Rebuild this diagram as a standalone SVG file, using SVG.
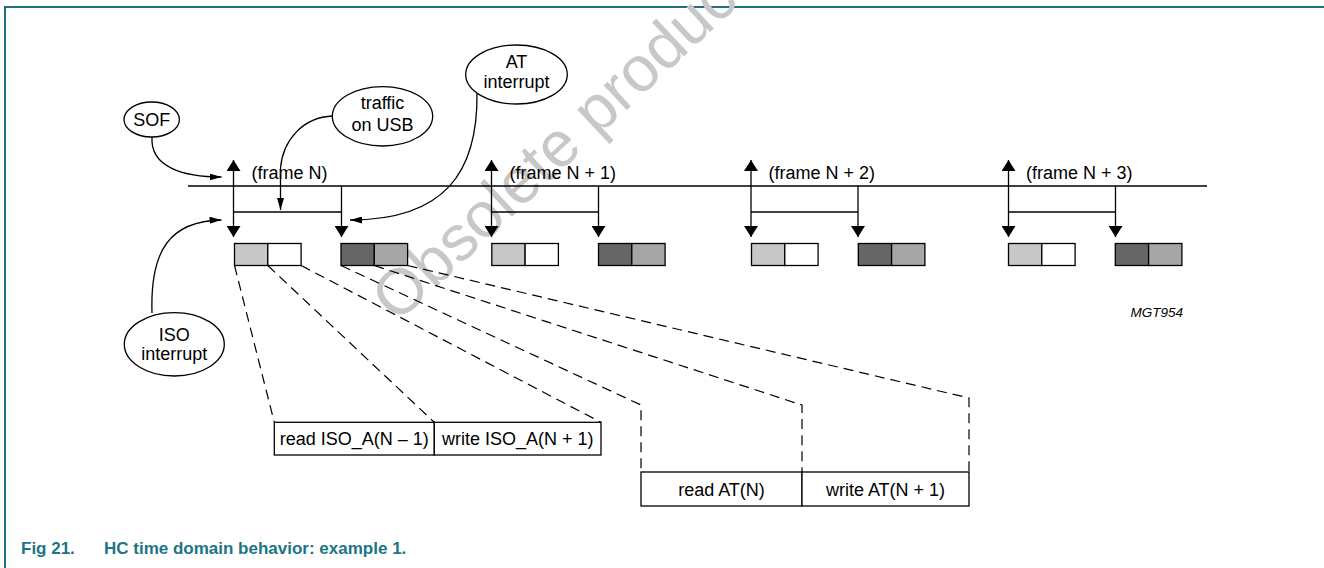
<svg xmlns="http://www.w3.org/2000/svg" width="1324" height="568" viewBox="0 0 1324 568">
<defs>
<style>
.ln{stroke:#000;stroke-width:1.3;fill:none}
.ds{stroke:#000;stroke-width:1.2;fill:none;stroke-dasharray:10 6}
.el{stroke:#000;stroke-width:1.3;fill:#fff}
.tx{font-family:"Liberation Sans",Arial,Helvetica,sans-serif;font-size:18px;fill:#000}
.mid{text-anchor:middle}
.bx{stroke:#000;stroke-width:1.3}
.lg{fill:#c8c8c8}.wh{fill:#fff}.dk{fill:#666}.md{fill:#a6a6a6}
.wm{font-family:"Liberation Sans",Arial,sans-serif;font-size:64px;fill:#c8c8c8}
</style>
<marker id="big" viewBox="0 0 11 14" refX="11" refY="7" markerWidth="11" markerHeight="14" markerUnits="userSpaceOnUse" orient="auto-start-reverse"><path d="M0,0 L11,7 L0,14 z" fill="#000"/></marker>
<marker id="sm" viewBox="0 0 12 7" refX="12" refY="3.5" markerWidth="12" markerHeight="7" markerUnits="userSpaceOnUse" orient="auto"><path d="M0,0 L12,3.5 L0,7 z" fill="#000"/></marker>
</defs>
<rect width="1324" height="568" fill="#fff"/>
<path d="M5,568 V7 H1324" fill="none" stroke="#1f6f80" stroke-width="2"/>
<text class="wm" x="397" y="324" transform="rotate(-43 397 324)">Obsolete product</text>

<g id="timeline">
<line class="ln" x1="188" y1="186" x2="1207" y2="186"/>
</g>

<g id="frameN">
<line class="ln" x1="233.5" y1="160" x2="233.5" y2="237" marker-start="url(#big)" marker-end="url(#big)"/>
<line class="ln" x1="233.5" y1="212" x2="341.5" y2="212"/>
<line class="ln" x1="341.5" y1="186" x2="341.5" y2="237" marker-end="url(#big)"/>
<text class="tx" x="251.5" y="179">(frame N)</text>
<rect class="bx lg" x="234.5" y="243.5" width="33.3" height="22"/>
<rect class="bx wh" x="267.8" y="243.5" width="33.3" height="22"/>
<rect class="bx dk" x="341" y="243.5" width="33.3" height="22"/>
<rect class="bx md" x="374.3" y="243.5" width="33.3" height="22"/>
</g>

<g id="frameN1">
<line class="ln" x1="491.5" y1="160" x2="491.5" y2="237" marker-start="url(#big)" marker-end="url(#big)"/>
<line class="ln" x1="491.5" y1="212" x2="598.5" y2="212"/>
<line class="ln" x1="598.5" y1="186" x2="598.5" y2="237" marker-end="url(#big)"/>
<text class="tx" x="509.5" y="179">(frame N + 1)</text>
<rect class="bx lg" x="491.8" y="243.5" width="33.3" height="22"/>
<rect class="bx wh" x="525.1" y="243.5" width="33.3" height="22"/>
<rect class="bx dk" x="598.5" y="243.5" width="33.3" height="22"/>
<rect class="bx md" x="631.8" y="243.5" width="33.3" height="22"/>
</g>

<g id="frameN2">
<line class="ln" x1="751" y1="160" x2="751" y2="237" marker-start="url(#big)" marker-end="url(#big)"/>
<line class="ln" x1="751" y1="212" x2="858" y2="212"/>
<line class="ln" x1="858" y1="186" x2="858" y2="237" marker-end="url(#big)"/>
<text class="tx" x="768.5" y="179">(frame N + 2)</text>
<rect class="bx lg" x="751.5" y="243.5" width="33.3" height="22"/>
<rect class="bx wh" x="784.8" y="243.5" width="33.3" height="22"/>
<rect class="bx dk" x="858.3" y="243.5" width="33.3" height="22"/>
<rect class="bx md" x="891.6" y="243.5" width="33.3" height="22"/>
</g>

<g id="frameN3">
<line class="ln" x1="1008.5" y1="160" x2="1008.5" y2="237" marker-start="url(#big)" marker-end="url(#big)"/>
<line class="ln" x1="1008.5" y1="212" x2="1115.5" y2="212"/>
<line class="ln" x1="1115.5" y1="186" x2="1115.5" y2="237" marker-end="url(#big)"/>
<text class="tx" x="1026" y="179">(frame N + 3)</text>
<rect class="bx lg" x="1008.5" y="243.5" width="33.3" height="22"/>
<rect class="bx wh" x="1041.8" y="243.5" width="33.3" height="22"/>
<rect class="bx dk" x="1115.3" y="243.5" width="33.3" height="22"/>
<rect class="bx md" x="1148.6" y="243.5" width="33.3" height="22"/>
</g>

<g id="connectors">
<path class="ln" d="M152,137 C150,168 185,177 221.5,177" marker-end="url(#sm)"/>
<path class="ln" d="M333,116 C303,117 283,140 280.5,168 L280.5,210" marker-end="url(#sm)"/>
<path class="ln" d="M477,93 C478,172 445,220 350,220" marker-end="url(#sm)"/>
<path class="ln" d="M152,313 C150,250 170,221 221.5,220" marker-end="url(#sm)"/>
<path class="ds" d="M234.5,265.5 L274.3,422.3"/>
<path class="ds" d="M267.8,265.5 L434.3,422.3"/>
<path class="ds" d="M301.1,265.5 L601,422.3"/>
<path class="ds" d="M341,265.5 L641,405 L641,472"/>
<path class="ds" d="M374.3,265.5 L802,405 L802,472"/>
<path class="ds" d="M407.6,265.5 L969,398 L969,472"/>
</g>

<g id="sof">
<ellipse class="el" cx="151.7" cy="119.5" rx="27.7" ry="17.5"/>
<text class="tx mid" x="151.7" y="126">SOF</text>
</g>
<g id="traffic">
<ellipse class="el" cx="382.5" cy="116.3" rx="50.2" ry="29.7"/>
<text class="tx mid" x="382.5" y="108.5">traffic</text>
<text class="tx mid" x="382.5" y="131">on USB</text>
</g>
<g id="atint">
<ellipse class="el" cx="516.5" cy="74.5" rx="50.8" ry="29.5"/>
<text class="tx mid" x="516.5" y="67.5">AT</text>
<text class="tx mid" x="516.5" y="88">interrupt</text>
</g>
<g id="isoint">
<ellipse class="el" cx="174.3" cy="344.3" rx="50" ry="31.7"/>
<text class="tx mid" x="174.3" y="340.7">ISO</text>
<text class="tx mid" x="174.3" y="360">interrupt</text>
</g>

<g id="isobuf">
<rect class="bx wh" x="274.3" y="422.3" width="160" height="32.7"/>
<rect class="bx wh" x="434.3" y="422.3" width="166.7" height="32.7"/>
<text class="tx mid" x="354.3" y="445">read ISO_A(N – 1)</text>
<text class="tx mid" x="517.7" y="445">write ISO_A(N + 1)</text>
</g>
<g id="atbuf">
<rect class="bx wh" x="641" y="472" width="161" height="34"/>
<rect class="bx wh" x="802" y="472" width="167" height="34"/>
<text class="tx mid" x="721.5" y="495.5">read AT(N)</text>
<text class="tx mid" x="885.5" y="495.5">write AT(N + 1)</text>
</g>

<text x="1183" y="316.5" text-anchor="end" font-family="Liberation Sans,Arial,sans-serif" font-size="13.5" font-style="italic">MGT954</text>
<text x="21" y="554" font-family="Liberation Sans,Arial,sans-serif" font-size="17" font-weight="bold" fill="#1b7587">Fig 21.<tspan x="104">HC time domain behavior: example 1.</tspan></text>
</svg>
